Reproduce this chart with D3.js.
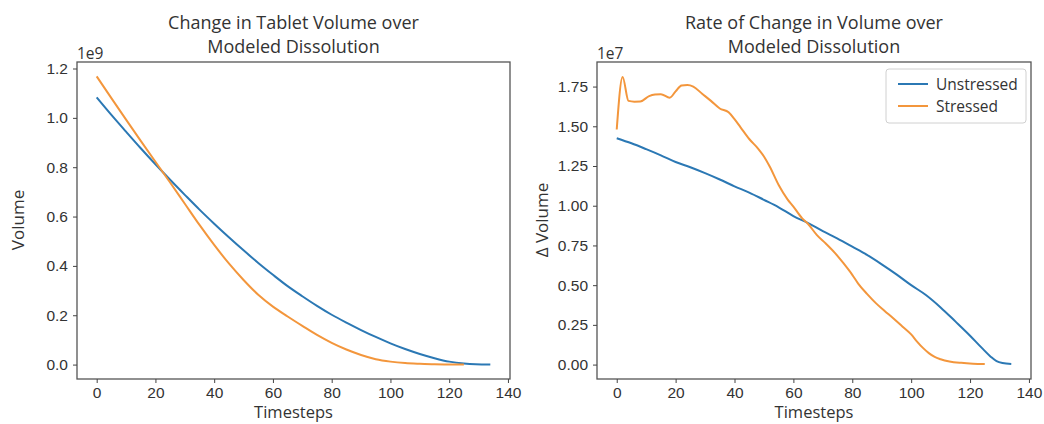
<!DOCTYPE html>
<html>
<head>
<meta charset="utf-8">
<script src="https://cdn.jsdelivr.net/npm/d3@7/dist/d3.min.js"></script>
<style>
  body { margin: 0; background: #fff; }
  svg { font-family: "Open Sans", "Noto Sans", sans-serif; }
  .axis text { fill: #333; font-size: 15.5px; }
  .axis path, .axis line { stroke: #444; }
  .lbl { fill: #333; }
</style>
</head>
<body>
<div id="chart"></div>
<script>
// ---- data ----
// left panel: tablet volume (x 1e9)
var volUnstT = [0, 5, 10, 15, 20, 25, 30, 35, 40, 45, 50, 55, 60, 65, 70, 75, 80, 85, 90, 95, 100, 105, 110, 115, 120, 125, 129, 134];
var volUnst  = [1.083, 1.012, 0.944, 0.877, 0.812, 0.749, 0.688, 0.628, 0.571, 0.516, 0.463, 0.412, 0.364, 0.318, 0.277, 0.238, 0.202, 0.170, 0.140, 0.112, 0.086, 0.063, 0.043, 0.026, 0.012, 0.004, 0.001, 0];
var volStrT  = [0, 5, 10, 15, 20, 25, 30, 35, 40, 45, 50, 55, 60, 65, 70, 75, 80, 85, 90, 95, 100, 105, 110, 115, 120, 125];
var volStr   = [1.168, 1.080, 0.993, 0.907, 0.822, 0.738, 0.652, 0.566, 0.485, 0.410, 0.343, 0.283, 0.235, 0.195, 0.157, 0.120, 0.088, 0.061, 0.039, 0.022, 0.012, 0.006, 0.003, 0.001, 0.0005, 0];

// right panel: change in volume (x 1e7)
var rateUnstT = [0, 5, 10, 15, 20, 25, 30, 35, 40, 45, 50, 55, 60, 65, 70, 75, 80, 85, 90, 95, 100, 105, 110, 115, 120, 124, 127, 129, 131, 134];
var rateUnst  = [1.425, 1.393, 1.356, 1.317, 1.275, 1.242, 1.205, 1.165, 1.122, 1.083, 1.037, 0.990, 0.935, 0.891, 0.840, 0.793, 0.742, 0.690, 0.631, 0.568, 0.500, 0.438, 0.360, 0.272, 0.182, 0.105, 0.050, 0.022, 0.010, 0.004];
var rateStrT  = [0, 2, 4, 6, 8, 11, 13, 15, 18, 20, 22, 24, 26, 29, 32, 35, 38, 40, 42, 45, 48, 50, 52, 55, 58, 60, 63, 65, 68, 71, 74, 77, 80, 82, 85, 88, 91, 94, 97, 100, 102, 104, 106, 108, 110, 113, 117, 121, 125];
var rateStr   = [1.48, 1.81, 1.66, 1.655, 1.656, 1.69, 1.70, 1.702, 1.68, 1.72, 1.757, 1.76, 1.75, 1.705, 1.66, 1.612, 1.588, 1.545, 1.495, 1.42, 1.36, 1.31, 1.245, 1.13, 1.04, 0.995, 0.92, 0.885, 0.815, 0.762, 0.705, 0.638, 0.565, 0.51, 0.445, 0.387, 0.338, 0.29, 0.24, 0.19, 0.145, 0.105, 0.072, 0.048, 0.034, 0.02, 0.011, 0.006, 0.004];

var seriesNames = ["Unstressed", "Stressed"];
var colors = ["#2b78b4", "#f3963c"];
var xTicks = [0, 20, 40, 60, 80, 100, 120, 140];
var volTicks = [0, 0.2, 0.4, 0.6, 0.8, 1.0, 1.2];
var rateTicks = [0, 0.25, 0.5, 0.75, 1.0, 1.25, 1.5, 1.75];

var width = 1044, height = 424;

var svg = d3.select('#chart')
	.append('svg')
	.attr('width', width)
	.attr('height', height);

function zip(ts, vs) {
	return ts.map(function(t, i){ return {t: t, v: vs[i]}; });
}

function panel(opt) {
	var x = d3.scaleLinear().domain([-6.7, 140.7]).range([opt.left, opt.right]);
	var y = d3.scaleLinear().domain(opt.ydom).range([379, 62]);

	var line = d3.line()
		.x(function(d){ return x(d.t); })
		.y(function(d){ return y(d.v); })
		.curve(d3.curveMonotoneX);

	opt.series.forEach(function(s, i){
		svg.append('path')
			.datum(s)
			.attr('fill', 'none')
			.attr('stroke', colors[i])
			.attr('stroke-width', 2)
			.attr('stroke-linejoin', 'round')
			.attr('d', line);
	});

	// frame
	svg.append('rect')
		.attr('x', opt.left).attr('y', 62)
		.attr('width', opt.right - opt.left).attr('height', 317)
		.attr('fill', 'none').attr('stroke', '#555').attr('stroke-width', 1.3);

	var xAxis = d3.axisBottom(x).tickValues(xTicks).tickSize(4).tickPadding(4);
	svg.append('g').attr('class', 'axis')
		.attr('transform', 'translate(0,379)')
		.call(xAxis)
		.call(function(g){ g.select('.domain').remove(); });

	var yAxis = d3.axisLeft(y).tickValues(opt.yticks).tickSize(4).tickPadding(5)
		.tickFormat(d3.format(opt.yfmt));
	svg.append('g').attr('class', 'axis')
		.attr('transform', 'translate(' + opt.left + ',0)')
		.call(yAxis)
		.call(function(g){ g.select('.domain').remove(); });

	var cx = (opt.left + opt.right) / 2;

	// offset text
	svg.append('text').attr('class', 'lbl')
		.attr('x', opt.left).attr('y', 59)
		.style('font-size', '15.5px')
		.text(opt.offset);

	// title
	opt.title.forEach(function(t, i){
		svg.append('text').attr('class', 'lbl')
			.attr('x', cx).attr('y', 28.5 + i * 24)
			.attr('text-anchor', 'middle')
			.style('font-size', '18px')
			.text(t);
	});

	svg.append('text').attr('class', 'lbl')
		.attr('x', cx).attr('y', 418)
		.attr('text-anchor', 'middle')
		.style('font-size', '16.5px')
		.text('Timesteps');

	svg.append('text').attr('class', 'lbl')
		.attr('transform', 'translate(' + opt.ylabX + ',220) rotate(-90)')
		.attr('text-anchor', 'middle')
		.style('font-size', '17px')
		.text(opt.ylabel);
}

panel({
	left: 77, right: 510,
	ydom: [-0.0584, 1.2264],
	yticks: volTicks, yfmt: '.1f',
	series: [zip(volUnstT, volUnst), zip(volStrT, volStr)],
	offset: '1e9',
	title: ['Change in Tablet Volume over', 'Modeled Dissolution'],
	ylabel: 'Volume', ylabX: 24
});

panel({
	left: 597, right: 1031,
	ydom: [-0.0907, 1.9047],
	yticks: rateTicks, yfmt: '.2f',
	series: [zip(rateUnstT, rateUnst), zip(rateStrT, rateStr)],
	offset: '1e7',
	title: ['Rate of Change in Volume over', 'Modeled Dissolution'],
	ylabel: '\u0394 Volume', ylabX: 548
});

// legend
var lg = svg.append('g').attr('transform', 'translate(886,69)');
lg.append('rect')
	.attr('width', 140).attr('height', 54).attr('rx', 3)
	.attr('fill', '#fff').attr('stroke', '#d0d0d0');
seriesNames.forEach(function(n, i){
	lg.append('line')
		.attr('x1', 12).attr('x2', 42)
		.attr('y1', 15 + i * 22).attr('y2', 15 + i * 22)
		.attr('stroke', colors[i]).attr('stroke-width', 2);
	lg.append('text').attr('class', 'lbl')
		.attr('x', 50).attr('y', 20.5 + i * 22)
		.style('font-size', '15.5px')
		.text(n);
});
</script>
</body>
</html>
